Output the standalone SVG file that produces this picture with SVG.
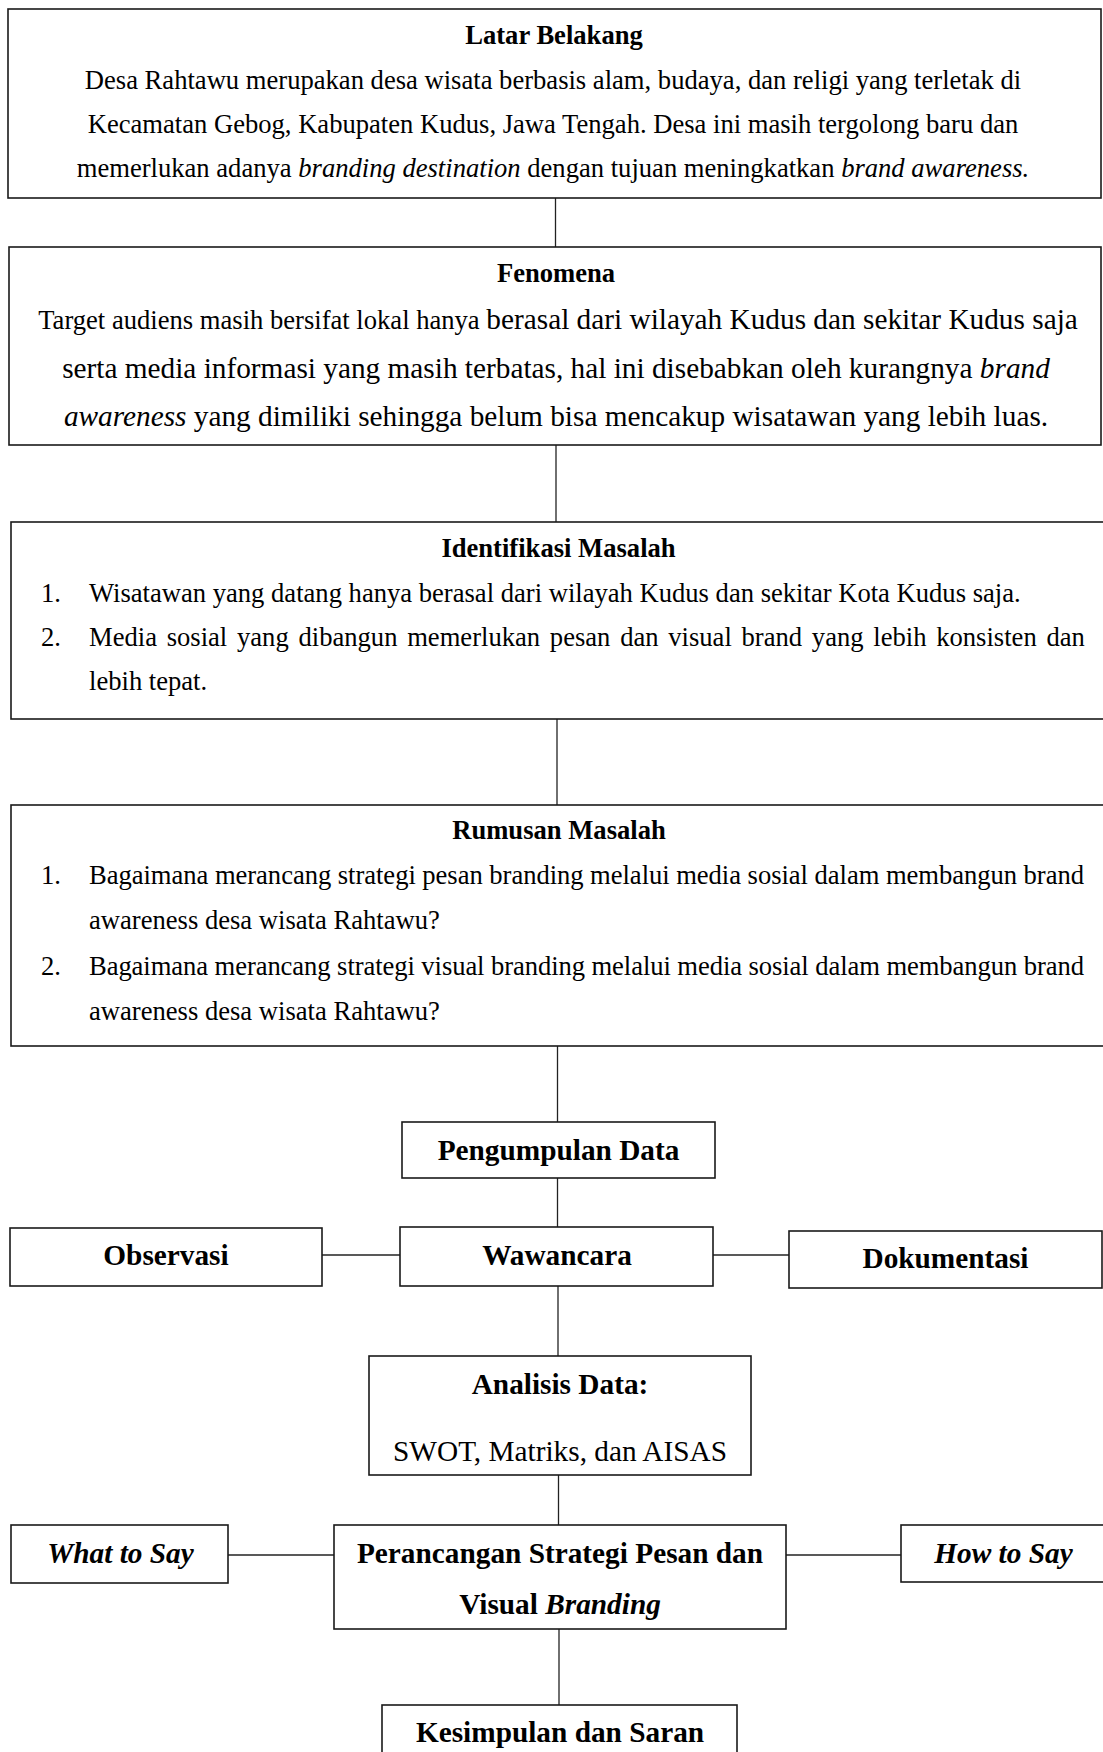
<svg xmlns="http://www.w3.org/2000/svg" width="1103" height="1752" viewBox="0 0 1103 1752">
<style>
.t{font-family:"Liberation Serif","Times New Roman",serif;fill:#000}
.s11{font-size:26.6px}
.s12{font-size:29.3px}
.b{font-weight:bold}
.i{font-style:italic}
.c{text-anchor:middle}
.box{fill:#fff;stroke:#1a1a1a;stroke-width:1.6}
.ln{stroke:#222;stroke-width:1.3;fill:none}
</style>
<rect width="1103" height="1752" fill="#fff"/>
<g id="connectors">
<line class="ln" x1="555.5" y1="198" x2="555.5" y2="247"/>
<line class="ln" x1="556" y1="445" x2="556" y2="522"/>
<line class="ln" x1="557" y1="719" x2="557" y2="805"/>
<line class="ln" x1="557.5" y1="1046" x2="557.5" y2="1122"/>
<line class="ln" x1="557.5" y1="1178" x2="557.5" y2="1227"/>
<line class="ln" x1="322" y1="1255" x2="400" y2="1255"/>
<line class="ln" x1="713" y1="1255" x2="789" y2="1255"/>
<line class="ln" x1="558" y1="1286" x2="558" y2="1356"/>
<line class="ln" x1="558.5" y1="1475" x2="558.5" y2="1525"/>
<line class="ln" x1="228" y1="1555" x2="334" y2="1555"/>
<line class="ln" x1="786" y1="1555" x2="901" y2="1555"/>
<line class="ln" x1="559" y1="1629" x2="559" y2="1705"/>
</g>
<g id="latar-belakang">
<rect class="box" x="8" y="9" width="1093" height="189"/>
<text class="t s11 b c" x="554" y="44">Latar Belakang</text>
<text class="t s11 c" x="553" y="89">Desa Rahtawu merupakan desa wisata berbasis alam, budaya, dan religi yang terletak di</text>
<text class="t s11 c" x="553" y="133">Kecamatan Gebog, Kabupaten Kudus, Jawa Tengah. Desa ini masih tergolong baru dan</text>
<text class="t s11 c" x="553" y="177">memerlukan adanya <tspan class="i">branding destination</tspan> dengan tujuan meningkatkan <tspan class="i">brand awareness.</tspan></text>
</g>
<g id="fenomena">
<rect class="box" x="9" y="247" width="1092" height="198"/>
<text class="t s11 b c" x="556" y="282">Fenomena</text>
<text class="t s12 c" x="558" y="329"><tspan class="s11">Target audiens masih bersifat lokal hanya </tspan>berasal dari wilayah Kudus dan sekitar Kudus saja</text>
<text class="t s12 c" x="556" y="377.5">serta media informasi yang masih terbatas, hal ini disebabkan oleh kurangnya <tspan class="i">brand</tspan></text>
<text class="t s12 c" x="556" y="426"><tspan class="i">awareness</tspan> yang dimiliki sehingga belum bisa mencakup wisatawan yang lebih luas.</text>
</g>
<g id="identifikasi-masalah">
<rect class="box" x="11" y="522" width="1100" height="197"/>
<text class="t s11 b c" x="558.5" y="557">Identifikasi Masalah</text>
<text class="t s11" x="41" y="602">1.</text>
<text class="t s11" x="89" y="602">Wisatawan yang datang hanya berasal dari wilayah Kudus dan sekitar Kota Kudus saja.</text>
<text class="t s11" x="41" y="646">2.</text>
<text class="t s11" x="89" y="646" word-spacing="3.1">Media sosial yang dibangun memerlukan pesan dan visual brand yang lebih konsisten dan</text>
<text class="t s11" x="89" y="690">lebih tepat.</text>
</g>
<g id="rumusan-masalah">
<rect class="box" x="11" y="805" width="1100" height="241"/>
<text class="t s11 b c" x="559" y="839">Rumusan Masalah</text>
<text class="t s11" x="41" y="884">1.</text>
<text class="t s11" x="89" y="884" textLength="995" lengthAdjust="spacing">Bagaimana merancang strategi pesan branding melalui media sosial dalam membangun brand</text>
<text class="t s11" x="89" y="929">awareness desa wisata Rahtawu?</text>
<text class="t s11" x="41" y="975">2.</text>
<text class="t s11" x="89" y="975" textLength="995" lengthAdjust="spacing">Bagaimana merancang strategi visual branding melalui media sosial dalam membangun brand</text>
<text class="t s11" x="89" y="1020">awareness desa wisata Rahtawu?</text>
</g>
<g id="pengumpulan-data">
<rect class="box" x="402" y="1122" width="313" height="56"/>
<text class="t s12 b c" x="558.5" y="1160">Pengumpulan Data</text>
</g>
<g id="observasi">
<rect class="box" x="10" y="1228" width="312" height="58"/>
<text class="t s12 b c" x="166" y="1265">Observasi</text>
</g>
<g id="wawancara">
<rect class="box" x="400" y="1227" width="313" height="59"/>
<text class="t s12 b c" x="557" y="1265">Wawancara</text>
</g>
<g id="dokumentasi">
<rect class="box" x="789" y="1231" width="313" height="57"/>
<text class="t s12 b c" x="945.5" y="1268">Dokumentasi</text>
</g>
<g id="analisis-data">
<rect class="box" x="369" y="1356" width="382" height="119"/>
<text class="t s12 b c" x="560" y="1394">Analisis Data:</text>
<text class="t s12 c" x="560" y="1461">SWOT, Matriks, dan AISAS</text>
</g>
<g id="what-to-say">
<rect class="box" x="11" y="1525" width="217" height="58"/>
<text class="t s12 b i c" x="120.5" y="1563">What to Say</text>
</g>
<g id="perancangan">
<rect class="box" x="334" y="1525" width="452" height="104"/>
<text class="t s12 b c" x="560" y="1563">Perancangan Strategi Pesan dan</text>
<text class="t s12 b c" x="560" y="1614">Visual <tspan class="i">Branding</tspan></text>
</g>
<g id="how-to-say">
<rect class="box" x="901" y="1525" width="215" height="57"/>
<text class="t s12 b i c" x="1003.5" y="1563">How to Say</text>
</g>
<g id="kesimpulan">
<rect class="box" x="382" y="1705" width="355" height="80"/>
<text class="t s12 b c" x="560" y="1742">Kesimpulan dan Saran</text>
</g>
</svg>
